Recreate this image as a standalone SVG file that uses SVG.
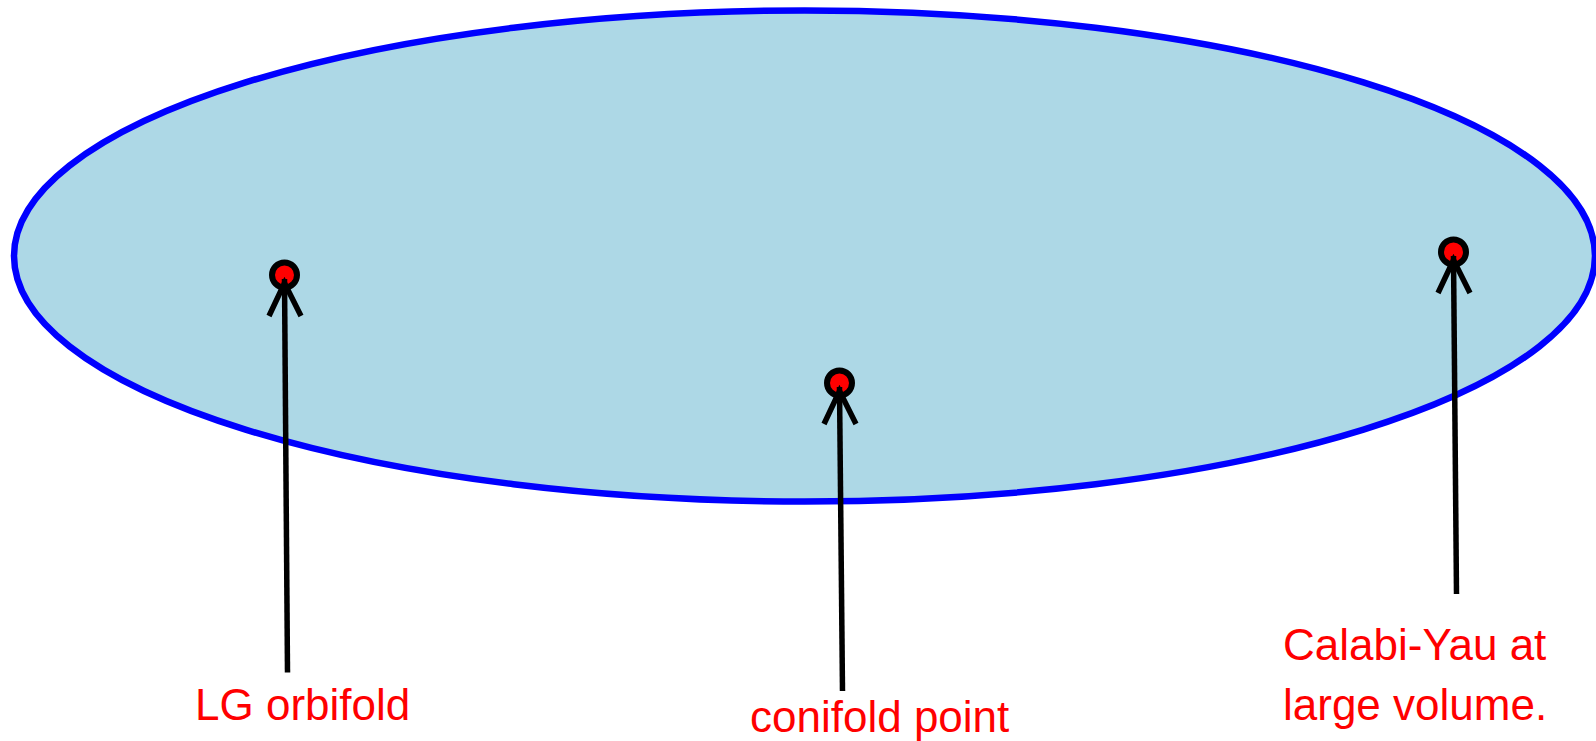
<svg xmlns="http://www.w3.org/2000/svg" width="1596" height="741" viewBox="0 0 1596 741">
<style>
.arrow{stroke:#000;stroke-width:5.5;fill:none;stroke-linecap:butt}
.pt{fill:#f00;stroke:#000;stroke-width:6}
.lbl{font-family:"Liberation Sans",Arial,sans-serif;font-size:44px;fill:#f00}
</style>
<g id="moduli-space">
<ellipse cx="804.5" cy="256" rx="790.5" ry="245.5" fill="#ADD8E6" stroke="#0000FF" stroke-width="6.5"/>
</g>
<g id="lg-point"><circle class="pt" cx="284.5" cy="275" r="12.5"/></g>
<g id="conifold-point"><circle class="pt" cx="839.5" cy="383" r="12.5"/></g>
<g id="cy-point"><circle class="pt" cx="1453.5" cy="252" r="12.5"/></g>
<g id="connectors">
<path class="arrow" d="M287.5 672.5 L284.5 279"/>
<path class="arrow" d="M269 316 L284.5 283 L301 316"/>
<path class="arrow" d="M842.5 691 L839.5 387"/>
<path class="arrow" d="M824 424 L839.5 391 L856 424"/>
<path class="arrow" d="M1456.5 594 L1453.5 256"/>
<path class="arrow" d="M1438 293 L1453.5 260 L1470 293"/>
</g>
<g id="labels">
<text class="lbl" x="195" y="720">LG orbifold</text>
<text class="lbl" x="750" y="732">conifold point</text>
<text class="lbl" x="1283" y="660">Calabi-Yau at</text>
<text class="lbl" x="1283" y="720">large volume.</text>
</g>
</svg>
